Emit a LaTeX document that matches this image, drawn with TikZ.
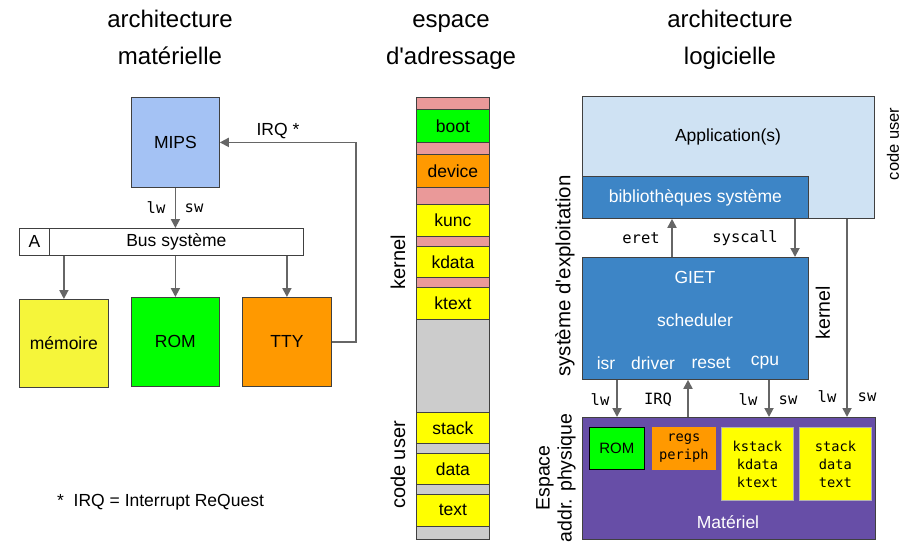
\documentclass[tikz,border=0pt]{standalone}
\usepackage{fontspec}
\setmainfont{Liberation Sans}[Ligatures=TeXOff]
\setmonofont{DejaVu Sans Mono}
\usetikzlibrary{arrows.meta,positioning}

\definecolor{mipsblue}{HTML}{A4C2F4}
\definecolor{memyellow}{HTML}{F5F53A}
\definecolor{romgreen}{HTML}{00FF00}
\definecolor{ttyorange}{HTML}{FF9900}
\definecolor{kpink}{HTML}{EA9999}
\definecolor{ugray}{HTML}{CCCCCC}
\definecolor{segyellow}{HTML}{FFFF00}
\definecolor{appblue}{HTML}{CFE2F3}
\definecolor{osblue}{HTML}{3D85C6}
\definecolor{hwpurple}{HTML}{674EA7}
\definecolor{arrowgray}{HTML}{666666}

\tikzset{
  box/.style={draw=black!75, line width=0.8pt, inner sep=0pt, anchor=north west,
    font=\fontsize{17.5}{20}\selectfont},
  seg/.style={box, minimum width=73pt},
  arr/.style={draw=arrowgray, line width=1.8pt, -{Triangle[length=9pt,width=9pt]}},
  lbl/.style={inner sep=1pt, font=\fontsize{17.5}{20}\selectfont},
  wlbl/.style={lbl, text=white},
  mono/.style={inner sep=1pt, font=\fontsize{15.5}{18}\ttfamily},
  smono/.style={font=\fontsize{13.7}{18}\ttfamily, align=center},
  side/.style={rotate=90, inner sep=1pt, font=\fontsize{20}{22}\selectfont},
  title/.style={align=center, inner sep=0pt, font=\fontsize{24}{37}\selectfont},
}

\begin{document}
\begin{tikzpicture}[x=1pt, y=-1pt]
\useasboundingbox (0,0) rectangle (917,542);

% titres
\node[title] (titleHW) at (170,39) {\strut architecture\\matérielle\strut};
\node[title] (titleAS) at (451,39) {\strut espace\\d'adressage\strut};
\node[title] (titleSW) at (730,39) {\strut architecture\\logicielle\strut};

% architecture materielle
\node[box, fill=mipsblue, minimum width=88pt, minimum height=90pt] (mips) at (131,97) {MIPS};
\node[box, minimum width=30pt, minimum height=27pt] (busA) at (19,228) {A};
\node[box, minimum width=254pt, minimum height=27pt] (bus) at (49,228) {Bus système};
\node[box, fill=memyellow, minimum width=89pt, minimum height=88pt] (mem) at (19,299) {mémoire};
\node[box, fill=romgreen, minimum width=88pt, minimum height=89pt] (rom) at (131,297) {ROM};
\node[box, fill=ttyorange, minimum width=89pt, minimum height=89pt] (tty) at (242,297) {TTY};

\draw[arr] (mips.south) -- (mips.south |- bus.north);
\draw[arr] (mem.north |- bus.south) -- (mem.north);
\draw[arr] (rom.north |- bus.south) -- (rom.north);
\draw[arr] (tty.north |- bus.south) -- (tty.north);
\draw[arr] (tty.east) -- ++(24,0) |- (mips.east);

\node[mono] (lwA) at (156,208) {lw};
\node[mono] (swA) at (194,208) {sw};
\node[lbl] (irqA) at (278,131) {IRQ *};
\node[lbl, anchor=west] (note) at (56,502) {*\ \ IRQ = Interrupt ReQuest};

% espace d'adressage
\node[seg, fill=kpink, minimum height=222pt] (kzone) at (416,97) {};
\node[seg, fill=ugray, minimum height=220pt] (uzone) at (416,319) {};
\node[seg, fill=romgreen, minimum height=33pt] (boot) at (416,109) {boot};
\node[seg, fill=ttyorange, minimum height=33pt] (device) at (416,154) {device};
\node[seg, fill=segyellow, minimum height=32pt] (kunc) at (416,204) {kunc};
\node[seg, fill=segyellow, minimum height=31pt] (kdata) at (416,246) {kdata};
\node[seg, fill=segyellow, minimum height=32pt] (ktext) at (416,287) {ktext};
\node[seg, fill=segyellow, minimum height=31pt] (stack) at (416,412) {stack};
\node[seg, fill=segyellow, minimum height=31pt] (data) at (416,453) {data};
\node[seg, fill=segyellow, minimum height=32pt] (text) at (416,494) {text};
\node[side] (kernelA) at (398,262) {kernel};
\node[side] (userA) at (398,465) {code user};

% architecture logicielle
\node[box, fill=appblue, minimum width=292pt, minimum height=122pt] (app) at (582,96) {};
\node[lbl] (appname) at (728,137) {Application(s)};
\node[box, fill=osblue, text=white, minimum width=226pt, minimum height=42pt] (bib) at (582,176) {bibliothèques système};
\node[box, fill=osblue, minimum width=226pt, minimum height=122pt] (giet) at (582,257) {};
\node[wlbl] (gietname) at (695,277) {GIET};
\node[wlbl] (sched) at (695,320) {scheduler};
\node[wlbl] (isr) at (606,363) {isr};
\node[wlbl] (driver) at (653,363) {driver};
\node[wlbl] (reset) at (711,363) {reset};
\node[wlbl] (cpu) at (765,363) {cpu};
\node[box, fill=hwpurple, minimum width=293pt, minimum height=122pt] (mat) at (582,417) {};
\node[wlbl] (matname) at (728,522) {Matériel};
\node[box, draw=black, fill=romgreen, minimum width=55pt, minimum height=42pt,
  font=\fontsize{15}{18}\selectfont] (romB) at (589,427) {ROM};
\node[box, draw=ttyorange, fill=ttyorange, minimum width=63pt, minimum height=42pt, smono] (regs) at (652,427) {regs\\periph};
\node[box, draw=black!30, fill=segyellow, minimum width=72pt, minimum height=73pt, smono] (kseg) at (721,427) {kstack\\kdata\\ktext};
\node[box, draw=black!30, fill=segyellow, minimum width=72pt, minimum height=73pt, smono] (useg) at (799,427) {stack\\data\\text};

\coordinate (eretx) at (672,0);
\coordinate (sysx) at (795,0);
\coordinate (lwx) at (617,0);
\coordinate (irqx) at (688,0);
\coordinate (kx) at (769,0);
\coordinate (ux) at (847,0);
\draw[arr] (giet.north -| eretx) -- (bib.south -| eretx);
\draw[arr] (bib.south -| sysx) -- (giet.north -| sysx);
\draw[arr] (giet.south -| lwx) -- (mat.north -| lwx);
\draw[arr] (mat.north -| irqx) -- (giet.south -| irqx);
\draw[arr] (giet.south -| kx) -- (mat.north -| kx);
\draw[arr] (app.south -| ux) -- (mat.north -| ux);

\node[mono] (eret) at (641,238) {eret};
\node[mono] (syscall) at (745,238) {syscall};
\node[mono] (lwB) at (600,400) {lw};
\node[mono] (irqB) at (658,400) {IRQ};
\node[mono] (lwC) at (748,400) {lw};
\node[mono] (swC) at (788,400) {sw};
\node[mono] (lwD) at (827,397) {lw};
\node[mono] (swD) at (867,397) {sw};

\node[side, font=\fontsize{16.5}{20}\selectfont] (userB) at (893,144) {code user};
\node[side, font=\fontsize{19.5}{22}\selectfont] (kernelB) at (823,313) {kernel};
\node[side, font=\fontsize{20.5}{22}\selectfont] (osname) at (565,276) {système d'exploitation};
\node[side, align=center, font=\fontsize{19.5}{22}\selectfont] (espace) at (556,478) {Espace\\addr. physique};
\end{tikzpicture}
\end{document}
